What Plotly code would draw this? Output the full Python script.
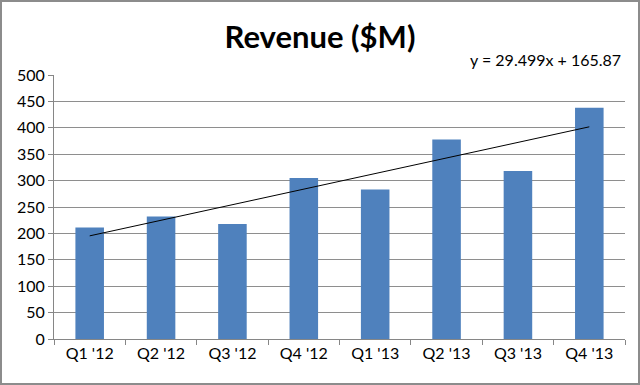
import plotly.graph_objects as go

categories = ["Q1 '12", "Q2 '12", "Q3 '12", "Q4 '12", "Q1 '13", "Q2 '13", "Q3 '13", "Q4 '13"]
revenue = [211, 232, 218, 305, 283, 378, 318, 438]
trend_slope = 29.499
trend_intercept = 165.87
y_ticks = [0, 50, 100, 150, 200, 250, 300, 350, 400, 450, 500]

W, H = 640, 385
ML, MR, MT, MB = 54, 15, 75, 46
PW, PH = W - ML - MR, H - MT - MB

trend_x = [1, len(categories)]
trend_y = [trend_slope * x + trend_intercept for x in trend_x]

FONT = "Lato, 'Open Sans', sans-serif"

fig = go.Figure()
fig.add_trace(go.Bar(x=categories, y=revenue, marker=dict(color="#4F81BD", line=dict(width=0)),
                     showlegend=False, hoverinfo="x+y"))
fig.add_trace(go.Scatter(x=[categories[0], categories[-1]], y=trend_y, mode="lines",
                         line=dict(color="#000000", width=1), showlegend=False))

fig.update_layout(
    width=W, height=H,
    margin=dict(l=ML, r=MR, t=MT, b=MB),
    paper_bgcolor="white", plot_bgcolor="white",
    bargap=0.6,
    font=dict(family=FONT, size=16, color="#000000"),
    title=dict(text="<b>Revenue ($M)</b>", x=0.5, xanchor="center", y=1 - 37 / H, yanchor="middle",
               font=dict(family=FONT, size=31, color="#000000")),
    xaxis=dict(showgrid=False, showline=True, linecolor="#868686", linewidth=1,
               ticks="outside", tickson="boundaries", ticklen=5, tickcolor="#868686",
               tickfont=dict(size=16), fixedrange=True),
    yaxis=dict(range=[0, 500], tickvals=y_ticks, showgrid=True, gridcolor="#8E8E8E", gridwidth=1,
               showline=True, linecolor="#868686", linewidth=1, ticks="outside", ticklen=5,
               tickcolor="#868686", tickfont=dict(size=16), zeroline=False, fixedrange=True),
    annotations=[dict(text="y = 29.499x + 165.87", xref="paper", yref="paper",
                      x=1 - 2 / PW, y=1 + 16 / PH, xanchor="right", yanchor="middle",
                      showarrow=False, font=dict(size=16, color="#000000"))],
    shapes=[dict(type="rect", xref="paper", yref="paper",
                 x0=-(ML - 1) / PW, x1=1 + (MR - 1) / PW, y0=-(MB - 1) / PH, y1=1 + (MT - 1) / PH,
                 line=dict(color="#8C8C8C", width=2), layer="below")],
)

fig.write_html("out.html", config={"displayModeBar": False},
               post_script="document.body.style.margin='0';document.body.style.padding='0';")
